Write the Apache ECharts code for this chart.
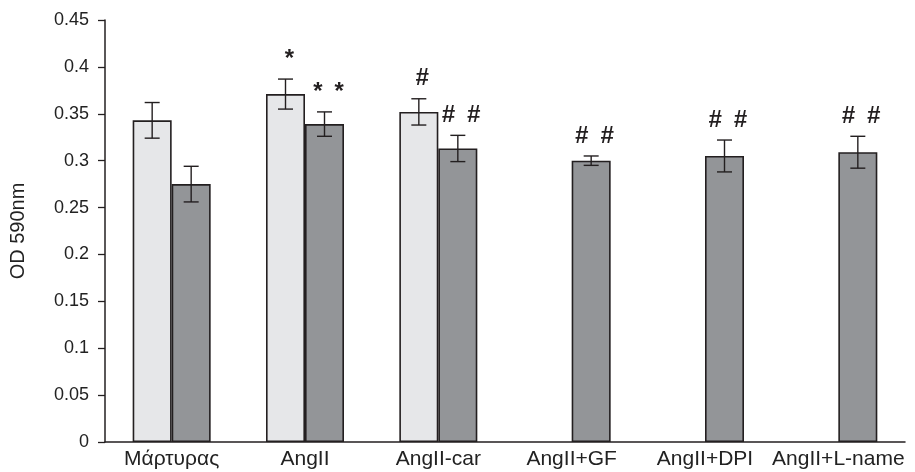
<!DOCTYPE html>
<html lang="el">
  <head>
    <meta charset="UTF-8" />
    <script src="https://cdn.jsdelivr.net/npm/echarts@6/dist/echarts.min.js"></script>
    <title>OD 590nm</title>
    <style>
      html,
      body,
      #chart {
        width: 100%;
        height: 100%;
        margin: 0;
        padding: 0;
        overflow: hidden;
        background: #fff;
      }
    </style>
  </head>
  <body>
    <div id="chart"></div>
    <script>
      const categories = ["Μάρτυρας", "AngII", "AngII-car", "AngII+GF", "AngII+DPI", "AngII+L-name"];
      const lightValues = [0.343, 0.371, 0.352, null, null, null];
      const lightErrors = [0.019, 0.016, 0.014, null, null, null];
      const lightMarks = ["", "*", "#", "", "", ""];
      const darkValues = [0.275, 0.339, 0.313, 0.300, 0.305, 0.309];
      const darkErrors = [0.019, 0.013, 0.014, 0.005, 0.017, 0.017];
      const darkMarks = ["", "* *", "# #", "# #", "# #", "# #"];
      const yTicks = [0, 0.05, 0.1, 0.15, 0.2, 0.25, 0.3, 0.35, 0.4, 0.45];

      const BAR_W = 39;
      const INK = "#231f20";
      const FONT = "'Liberation Sans', Arial, sans-serif";

      // error bars + significance marks drawn on top of each bar group
      function errorSeries(values, errors, marks, side) {
        const data = values.map((v, i) => [i, v, errors[i], marks[i]]);
        return {
          type: "custom",
          z: 5,
          silent: true,
          data: data.filter((d) => d[1] != null),
          encode: { x: 0, y: 1 },
          renderItem: function (params, api) {
            const i = api.value(0);
            const v = api.value(1);
            const e = api.value(2);
            const mark = data[i][3];
            const dx = side * (BAR_W / 2);
            const top = api.coord([i, v + e]);
            const bot = api.coord([i, v - e]);
            const x = top[0] + dx;
            const cap = 7.5;
            const style = { stroke: INK, lineWidth: 1.4 };
            const children = [
              { type: "line", shape: { x1: x, y1: top[1], x2: x, y2: bot[1] }, style },
              { type: "line", shape: { x1: x - cap, y1: top[1], x2: x + cap, y2: top[1] }, style },
              { type: "line", shape: { x1: x - cap, y1: bot[1], x2: x + cap, y2: bot[1] }, style },
            ];
            if (mark) {
              children.push({
                type: "text",
                style: {
                  x: x + 3,
                  y: top[1] - 8,
                  text: mark.replace(/ /g, "\u2002"),
                  fill: INK,
                  font: "italic bold 24px " + FONT,
                  align: "center",
                  verticalAlign: "bottom",
                },
              });
            }
            return { type: "group", children };
          },
        };
      }

      const chart = echarts.init(document.getElementById("chart"));
      const option = {
        animation: false,
        backgroundColor: "#fff",
        grid: { left: 104, right: 10, top: 20, bottom: 30 },
        xAxis: {
          type: "category",
          data: categories,
          axisLine: { lineStyle: { color: INK, width: 1.5 } },
          axisTick: { length: 6, lineStyle: { color: INK, width: 1.3 } },
          axisLabel: { color: "#222", fontSize: 21, fontFamily: FONT, margin: 7, interval: 0 },
        },
        yAxis: {
          type: "value",
          min: yTicks[0],
          max: yTicks[yTicks.length - 1],
          interval: 0.05,
          name: "OD 590nm",
          nameLocation: "middle",
          nameGap: 77,
          nameTextStyle: { color: "#222", fontSize: 20, fontFamily: FONT },
          splitLine: { show: false },
          axisLine: { show: true, lineStyle: { color: INK, width: 1.5 } },
          axisTick: { show: true, length: 7, lineStyle: { color: INK, width: 1.3 } },
          axisLabel: {
            color: "#222",
            fontSize: 18,
            fontFamily: FONT,
            margin: 16,
            formatter: (v) => String(Math.round(v * 100) / 100),
          },
        },
        series: [
          {
            type: "bar",
            data: lightValues,
            barWidth: BAR_W,
            barGap: "0%",
            itemStyle: { color: "#e6e7e9", borderColor: INK, borderWidth: 1.6 },
          },
          {
            type: "bar",
            data: darkValues,
            barWidth: BAR_W,
            itemStyle: { color: "#939598", borderColor: INK, borderWidth: 1.6 },
          },
          errorSeries(lightValues, lightErrors, lightMarks, -1),
          errorSeries(darkValues, darkErrors, darkMarks, 1),
        ],
      };
      chart.setOption(option);
    </script>
  </body>
</html>
